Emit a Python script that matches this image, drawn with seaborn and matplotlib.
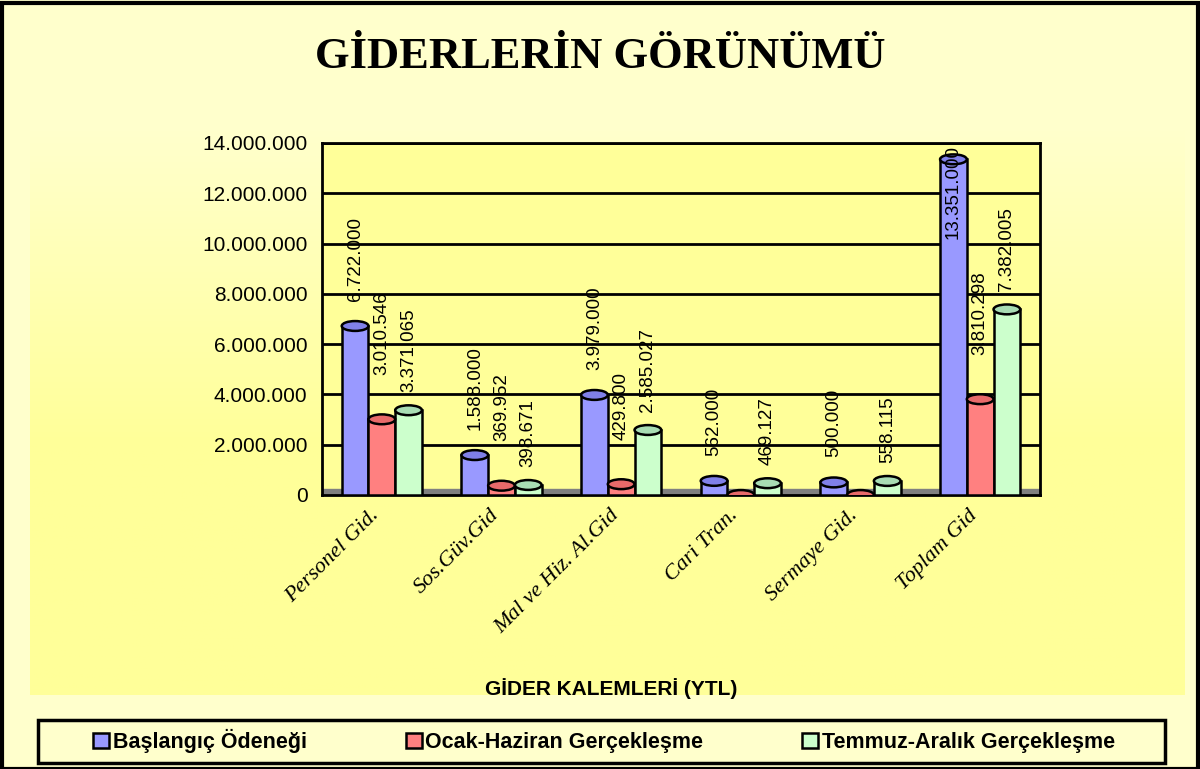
import numpy as np
import pandas as pd
import matplotlib
matplotlib.use("Agg")
import matplotlib.pyplot as plt
import matplotlib.transforms as mtrans
from matplotlib.patches import Rectangle, Ellipse
import seaborn as sns

# data
kalemler = ["Personel Gid.", "Sos.Güv.Gid", "Mal ve Hiz. Al.Gid",
            "Cari Tran.", "Sermaye Gid.", "Toplam Gid"]
seriler = ["Başlangıç Ödeneği", "Ocak-Haziran Gerçekleşme", "Temmuz-Aralık Gerçekleşme"]
baslangic = [6722000, 1588000, 3979000, 562000, 500000, 13351000]
ocak_haziran = [3010546, 369952, 429800, 0, 0, 3810298]
temmuz_aralik = [3371065, 398671, 2585027, 469127, 558115, 7382005]
yticks = [0, 2000000, 4000000, 6000000, 8000000, 10000000, 12000000, 14000000]

renkler = ["#9999FF", "#FF8080", "#CCFFCC"]
kapak = ["#8080E8", "#E86A6A", "#A8DDB4"]
etiket_pad = [18, 32, 13]

df = pd.DataFrame({
    "kalem": kalemler * 3,
    "seri": [seriler[0]] * 6 + [seriler[1]] * 6 + [seriler[2]] * 6,
    "deger": baslangic + ocak_haziran + temmuz_aralik,
})


def nokta(v):
    return f"{v:,.0f}".replace(",", ".")


sns.set_style("white")
plt.rcParams["font.family"] = ["Liberation Sans", "DejaVu Sans"]
plt.rcParams["text.color"] = "black"
plt.rcParams["xtick.color"] = "black"
plt.rcParams["ytick.color"] = "black"

DPI = 100
fig = plt.figure(figsize=(12, 7.69), dpi=DPI, facecolor="#FFFFCC")

# outer frame
fig.patches.append(Rectangle((0.002, 0.0), 0.996, 0.996, transform=fig.transFigure,
                             fill=False, edgecolor="black", linewidth=3))

# inner yellow area with soft gradient at the top
bg = fig.add_axes([30 / 1200, 1 - 695 / 769, 1155 / 1200, 565 / 769], zorder=0)
grad = np.linspace(0, 1, 256)[:, None]
top = np.array([1.0, 1.0, 0.80])
bot = np.array([1.0, 1.0, 0.60])
mix = np.clip(grad * 1.8, 0, 1)
img = top * (1 - mix[..., None]) + bot * mix[..., None]
img = np.repeat(img, 4, axis=1)
bg.imshow(img, aspect="auto", extent=[0, 1, 0, 1], origin="upper")
bg.set_axis_off()

ax = fig.add_axes([322 / 1200, 1 - 495 / 769, 718 / 1200, 352 / 769], zorder=1)
ax.set_facecolor("#FFFF99")

sns.barplot(data=df, x="kalem", y="deger", hue="seri", order=kalemler,
            hue_order=seriler, palette=renkler, width=0.67, saturation=1,
            edgecolor="black", linewidth=1.8, ax=ax, zorder=3)

ax.set_ylim(0, 14000000)
# gray floor
ax.axhspan(0, 14000000 * 0.018, color="#808080", zorder=2)

# cylinder caps
cap_h = 14000000 * 0.028
for i, cont in enumerate(ax.containers):
    for b in cont:
        x = b.get_x() + b.get_width() / 2
        ax.add_patch(Ellipse((x, b.get_height()), b.get_width(), cap_h,
                             facecolor=kapak[i], edgecolor="black",
                             linewidth=1.8, zorder=4))

anns = []
for i, cont in enumerate(ax.containers):
    labels = [nokta(b.get_height()) if b.get_height() > 0 else "" for b in cont]
    anns += ax.bar_label(cont, labels=labels, rotation=90,
                         padding=etiket_pad[i], fontsize=13.5, zorder=5)

ax.set_yticks(yticks)
ax.set_yticklabels([nokta(v) for v in yticks], fontsize=15)
ax.yaxis.grid(True, color="black", linewidth=2, zorder=0)
ax.set_axisbelow(True)
ax.tick_params(axis="y", length=7, width=2, color="black")
ax.tick_params(axis="x", length=0)
for s in ax.spines.values():
    s.set_color("black")
    s.set_linewidth(2)

ax.set_xticks(range(len(kalemler)))
ax.set_xticklabels(kalemler, rotation=45, ha="right", va="top",
                   rotation_mode="anchor", fontsize=16,
                   family="Liberation Serif", style="italic")
kay = mtrans.ScaledTranslation(-12 / DPI, -6 / DPI, fig.dpi_scale_trans)
for t in ax.get_xticklabels():
    t.set_transform(t.get_transform() + kay)
ax.set_xlabel("")
ax.set_ylabel("")

handles, labs = ax.get_legend_handles_labels()
ax.get_legend().remove()

fig.text(0.5, 1 - 57 / 769, "GİDERLERİN GÖRÜNÜMÜ", ha="center", va="center",
         fontsize=32, fontweight="bold", family="Liberation Serif")
fig.text(611 / 1200, 1 - 689 / 769, "GİDER KALEMLERİ (YTL)", ha="center",
         va="center", fontsize=15, fontweight="bold",
         family=["Liberation Sans Narrow", "Liberation Sans"])

# legend box
fig.patches.append(Rectangle((38 / 1200, 1 - 763 / 769), 1127 / 1200, 43 / 769,
                             transform=fig.transFigure, facecolor="#FFFFCC",
                             edgecolor="black", linewidth=2.5, zorder=2))
leg = fig.legend(handles, labs, loc="center", ncol=3,
                 bbox_to_anchor=(604 / 1200, 1 - 741 / 769),
                 frameon=False, handlelength=0.75, handleheight=0.75,
                 handletextpad=0.15, columnspacing=4.6, borderaxespad=0,
                 prop={"size": 15.5, "weight": "bold"})
leg.set_zorder(3)
for h in leg.legend_handles:
    h.set_edgecolor("black")
    h.set_linewidth(1.8)

# keep value labels inside the plot area (tall bar label is pushed down)
fig.canvas.draw()
ust = ax.get_window_extent().y1
for a in anns:
    if not a.get_text():
        continue
    bb = a.get_window_extent()
    if bb.y1 > ust:
        fazla = (bb.y1 - ust + 2) * 72 / DPI
        dx, dy = a.xyann
        a.xyann = (dx, dy - fazla)

fig.savefig("out.png", dpi=DPI, facecolor=fig.get_facecolor())
